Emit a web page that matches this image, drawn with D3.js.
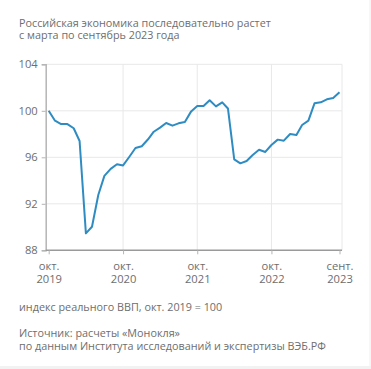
<!DOCTYPE html>
<html><head><meta charset="utf-8">
<script src="https://cdn.jsdelivr.net/npm/d3@7"></script>
<style>
html,body{margin:0;padding:0;background:#fff;}
svg{display:block;font-family:"Open Sans","Noto Sans",sans-serif;}
</style></head>
<body>
<svg id="chart" width="371" height="369"></svg>
<script>
const startMonth = "2019-10";
const gdpIndex = [
  100.0, 99.15, 98.86, 98.86, 98.5, 97.4, 89.46, 90.03, 92.76, 94.4, 95.0, 95.4,
  95.3, 96.05, 96.8, 96.95, 97.55, 98.2, 98.55, 98.95, 98.72, 98.92, 99.03, 99.95,
  100.41, 100.41, 100.9, 100.38, 100.73, 100.2, 95.82, 95.48, 95.68, 96.2, 96.65, 96.46,
  97.06, 97.52, 97.43, 98.0, 97.92, 98.78, 99.15, 100.64, 100.73, 100.99, 101.1, 101.59
];
const yTicks = [88, 92, 96, 100, 104];
const xTickMonths = ["2019-10", "2020-10", "2021-10", "2022-10", "2023-09"];
const xTickLabels = [["окт.", "2019"], ["окт.", "2020"], ["окт.", "2021"], ["окт.", "2022"], ["сент.", "2023"]];
const titleLines = ["Российская экономика последовательно растет", "с марта по сентябрь 2023 года"];
const noteLines = ["индекс реального ВВП, окт. 2019 = 100"];
const sourceLines = ["Источник: расчеты «Монокля»", "по данным Института исследований и экспертизы ВЭБ.РФ"];

const parse = d3.timeParse("%Y-%m");
const t0 = parse(startMonth);
const data = gdpIndex.map((v, i) => ({date: d3.timeMonth.offset(t0, i), value: v}));

const svg = d3.select("#chart");
const x = d3.scaleTime().domain([data[0].date, data[data.length - 1].date]).range([48.7, 339.5]);
const y = d3.scaleLinear().domain([88, 104]).range([250.3, 64.3]);
const plotLeft = 45.7, plotRight = 342;

const textColor = "#6e6e6e";
const fs = 10.8;

// title
svg.append("g").selectAll("text").data(titleLines).join("text")
  .attr("x", 19).attr("y", (d, i) => 26.8 + i * 12.4)
  .attr("font-size", fs).attr("fill", textColor).text(d => d);

// horizontal grid
svg.append("g").selectAll("line").data(yTicks.filter(v => v > 88)).join("line")
  .attr("x1", plotLeft).attr("x2", plotRight)
  .attr("y1", d => y(d)).attr("y2", d => y(d))
  .attr("stroke", "#e8e8e8").attr("stroke-width", 1);

// vertical grid
const gridDates = xTickMonths.slice(1, 4).map(parse);
svg.append("g").selectAll("line").data(gridDates).join("line")
  .attr("x1", d => x(d)).attr("x2", d => x(d))
  .attr("y1", y(104)).attr("y2", y(88))
  .attr("stroke", "#e8e8e8").attr("stroke-width", 1);
svg.append("line").attr("x1", plotRight).attr("x2", plotRight)
  .attr("y1", y(104)).attr("y2", y(88)).attr("stroke", "#e8e8e8");

// y axis
const yAxis = d3.axisLeft(y).tickValues(yTicks).tickSize(4).tickPadding(4);
const gy = svg.append("g").attr("transform", `translate(${plotLeft},0)`).call(yAxis);
gy.select(".domain").attr("stroke", "#b5b5b5").attr("stroke-width", 1.5);
gy.selectAll(".tick line").attr("stroke", "#b5b5b5");
gy.selectAll(".tick text").attr("fill", textColor).attr("font-size", 11.2)
  .attr("font-family", "'Open Sans','Noto Sans',sans-serif");

// x axis
const xAxis = d3.axisBottom(x).tickValues(xTickMonths.map(parse)).tickSize(4).tickFormat("");
const gx = svg.append("g").attr("transform", `translate(0,${y(88)})`).call(xAxis);
gx.select(".domain").attr("d", `M${plotLeft},0H${plotRight}`).attr("stroke", "#9a9a9a").attr("stroke-width", 1.5);
gx.selectAll(".tick line").attr("stroke", "#b5b5b5");
gx.selectAll(".tick").each(function(d, i) {
  const t = d3.select(this).append("text").attr("fill", textColor).attr("font-size", 11.2)
    .attr("text-anchor", "middle").attr("font-family", "'Open Sans','Noto Sans',sans-serif");
  t.append("tspan").attr("x", 0).attr("y", 19.5).text(xTickLabels[i][0]);
  t.append("tspan").attr("x", 0).attr("y", 33).text(xTickLabels[i][1]);
});

// line
const line = d3.line().x(d => x(d.date)).y(d => y(d.value));
svg.append("path").datum(data).attr("d", line)
  .attr("fill", "none").attr("stroke", "#2f8cc2").attr("stroke-width", 2)
  .attr("stroke-linejoin", "round");

// notes
svg.append("g").selectAll("text").data(noteLines).join("text")
  .attr("x", 19).attr("y", 311).attr("font-size", fs).attr("fill", textColor).text(d => d);
svg.append("g").selectAll("text").data(sourceLines).join("text")
  .attr("x", 19).attr("y", (d, i) => 337 + i * 13.2)
  .attr("font-size", fs).attr("fill", textColor).text(d => d);

// frame edges
svg.append("line").attr("x1", 370).attr("x2", 370).attr("y1", 0).attr("y2", 369).attr("stroke", "#eeeeee");
svg.append("rect").attr("x", 0).attr("y", 366).attr("width", 371).attr("height", 3).attr("fill", "#f2f2f2");
</script>
</body></html>
